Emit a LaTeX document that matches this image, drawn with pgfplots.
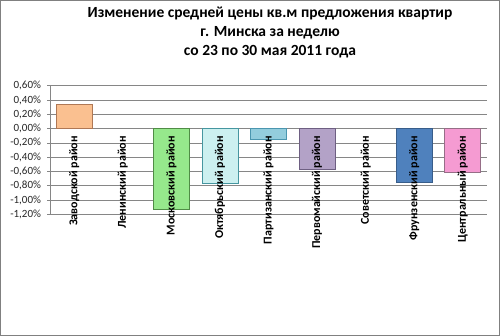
\documentclass[border=0pt]{standalone}
\usepackage{fontspec}
\setmainfont{Carlito}
\usepackage{pgfplots}
\pgfplotsset{compat=1.18}
\definecolor{gridc}{RGB}{134,134,134}
\definecolor{framec}{RGB}{128,128,128}
\tikzset{catlabel/.style={rotate=90, anchor=east, inner sep=0pt, font=\bfseries\fontsize{12bp}{14bp}\selectfont}}
\begin{document}
\begin{tikzpicture}
\draw[framec, line width=1.2bp] (0.6bp,0.6bp) rectangle (499.4bp,335.4bp);
\node[align=center, font=\bfseries\fontsize{15.5bp}{19.3bp}\selectfont] at (270bp,303.5bp)
  {Изменение средней цены кв.м предложения квартир\\г. Минска за неделю\\со 23 по 30 мая 2011 года};
\begin{axis}[
  at={(50bp,121.7bp)}, anchor=south west,
  width=437bp, height=128.6bp, scale only axis,
  xmin=-0.5, xmax=8.5, ymin=-1.2, ymax=0.6,
  axis y line*=left, axis x line=none,
  axis line style={gridc, line width=0.6bp},
  ytick={-1.2,-1,-0.8,-0.6,-0.4,-0.2,0,0.2,0.4,0.6},
  yticklabels={{-1,20\%},{-1,00\%},{-0,80\%},{-0,60\%},{-0,40\%},{-0,20\%},{0,00\%},{0,20\%},{0,40\%},{0,60\%}},
  yticklabel style={font=\fontsize{11bp}{12bp}\selectfont, text=black!85, xshift=-2.5bp},
  ytick style={gridc, line width=0.6bp},
  tick align=outside, major tick length=3bp,
  ymajorgrids, grid style={gridc, line width=0.6bp},
  xtick=\empty,
  ybar, bar width=36bp, bar shift=0pt,
  clip=false,
]
\addplot[fill={rgb,255:red,250;green,192;blue,144}, draw={rgb,255:red,175;green,120;blue,85}, line width=0.8bp] coordinates {(0,0.34)};
\addplot[fill={rgb,255:red,150;green,232;blue,140}, draw={rgb,255:red,80;green,140;blue,70}, line width=0.8bp] coordinates {(2,-1.13)};
\addplot[fill={rgb,255:red,204;green,240;blue,240}, draw={rgb,255:red,70;green,150;blue,160}, line width=0.8bp] coordinates {(3,-0.77)};
\addplot[fill={rgb,255:red,147;green,205;blue,221}, draw={rgb,255:red,75;green,150;blue,175}, line width=0.8bp] coordinates {(4,-0.15)};
\addplot[fill={rgb,255:red,179;green,162;blue,199}, draw={rgb,255:red,110;green,95;blue,130}, line width=0.8bp] coordinates {(5,-0.57)};
\addplot[fill={rgb,255:red,79;green,129;blue,189}, draw={rgb,255:red,56;green,93;blue,138}, line width=0.8bp] coordinates {(7,-0.76)};
\addplot[fill={rgb,255:red,245;green,155;blue,210}, draw={rgb,255:red,150;green,110;blue,135}, line width=0.8bp] coordinates {(8,-0.61)};
\node[catlabel] at (axis cs:0,-0.105) {Заводской район};
\node[catlabel] at (axis cs:1,-0.105) {Ленинский район};
\node[catlabel] at (axis cs:2,-0.105) {Московский район};
\node[catlabel] at (axis cs:3,-0.105) {Октябрьский район};
\node[catlabel] at (axis cs:4,-0.105) {Партизанский район};
\node[catlabel] at (axis cs:5,-0.105) {Первомайский район};
\node[catlabel] at (axis cs:6,-0.105) {Советский район};
\node[catlabel] at (axis cs:7,-0.105) {Фрунзенский район};
\node[catlabel] at (axis cs:8,-0.105) {Центральный район};
\end{axis}
\end{tikzpicture}
\end{document}
